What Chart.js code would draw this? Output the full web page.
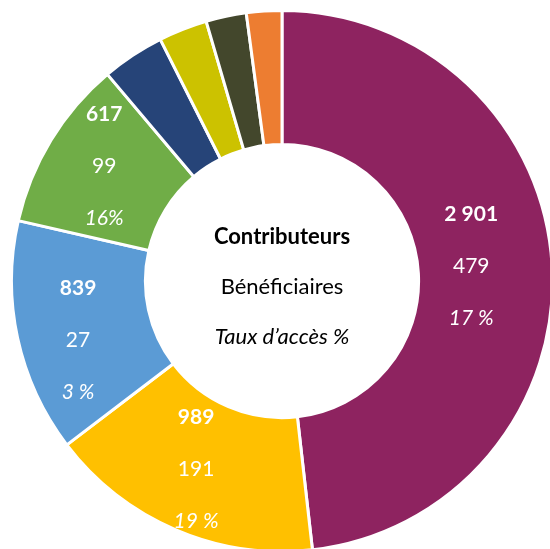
<!DOCTYPE html>
<html>
<head>
<meta charset="utf-8">
<script src="https://cdn.jsdelivr.net/npm/chart.js@4"></script>
<style>
  html, body { margin: 0; padding: 0; background: #fff; overflow: hidden; width: 550px; height: 549px; }
  #wrap { position: absolute; left: 10px; top: 9px; width: 544px; height: 544px; }
</style>
</head>
<body>
<div id="wrap"><canvas id="DonutChart" width="544" height="544"></canvas></div>
<script>
// Data
const categories = ["Catégorie A", "Catégorie B", "Catégorie C", "Catégorie D", "Catégorie E", "Catégorie F", "Catégorie G", "Catégorie H"];
const contributeurs = [2901, 989, 839, 617, 225, 175, 145, 127];
const beneficiaires = [479, 191, 27, 99, null, null, null, null];
const tauxAcces = ["17 %", "19 %", "3 %", "16%", null, null, null, null];
const sliceColors = ["#8E2360", "#FFC000", "#5B9BD5", "#70AD47", "#264478", "#CCC200", "#43472C", "#ED7D31"];

const FONT = "Lato, 'Open Sans', sans-serif";
// small shifts so the label blocks sit where Excel put them
const labelNudge = [[-14, -3], [-6, 1], [-5, 16], [-4, -9]];

// Draws the three label lines inside each big slice and the legend text in the hole
const labelPlugin = {
  id: "sliceLabels",
  afterDatasetsDraw(chart) {
    const ctx = chart.ctx;
    const meta = chart.getDatasetMeta(0);
    const lineGap = 52;
    ctx.save();
    ctx.textAlign = "center";
    ctx.textBaseline = "middle";

    meta.data.forEach((arc, i) => {
      if (beneficiaires[i] === null) return;
      const p = arc.getCenterPoint();
      const x = p.x + labelNudge[i][0];
      const y = p.y + labelNudge[i][1];
      ctx.fillStyle = "#ffffff";
      ctx.font = "bold 21px " + FONT;
      ctx.fillText(contributeurs[i].toLocaleString("fr-FR").replace(/\s/g, " "), x, y - lineGap);
      ctx.font = "21px " + FONT;
      ctx.fillText(String(beneficiaires[i]), x, y);
      ctx.font = "italic 21px " + FONT;
      ctx.fillText(tauxAcces[i], x, y + lineGap);
    });

    // centre legend
    const cx = (chart.chartArea.left + chart.chartArea.right) / 2;
    const cy = (chart.chartArea.top + chart.chartArea.bottom) / 2;
    ctx.fillStyle = "#000000";
    ctx.font = "bold 22px " + FONT;
    ctx.fillText("Contributeurs", cx, cy - 44);
    ctx.font = "22px " + FONT;
    ctx.fillText("Bénéficiaires", cx, cy + 6);
    ctx.font = "italic 22px " + FONT;
    ctx.fillText("Taux d’accès %", cx, cy + 56);
    ctx.restore();
  }
};

const ctx = document.getElementById("DonutChart").getContext("2d");
const donutChart = new Chart(ctx, {
  type: "doughnut",
  data: {
    labels: categories,
    datasets: [
      {
        data: contributeurs,
        backgroundColor: sliceColors,
        borderColor: "#ffffff",
        borderWidth: 3,
      },
    ],
  },
  options: {
    responsive: false,
    animation: false,
    cutout: "50.5%",
    rotation: 0,
    layout: { padding: 0 },
    plugins: {
      legend: { display: false },
      tooltip: { enabled: false },
    },
  },
  plugins: [labelPlugin],
});
</script>
</body>
</html>
